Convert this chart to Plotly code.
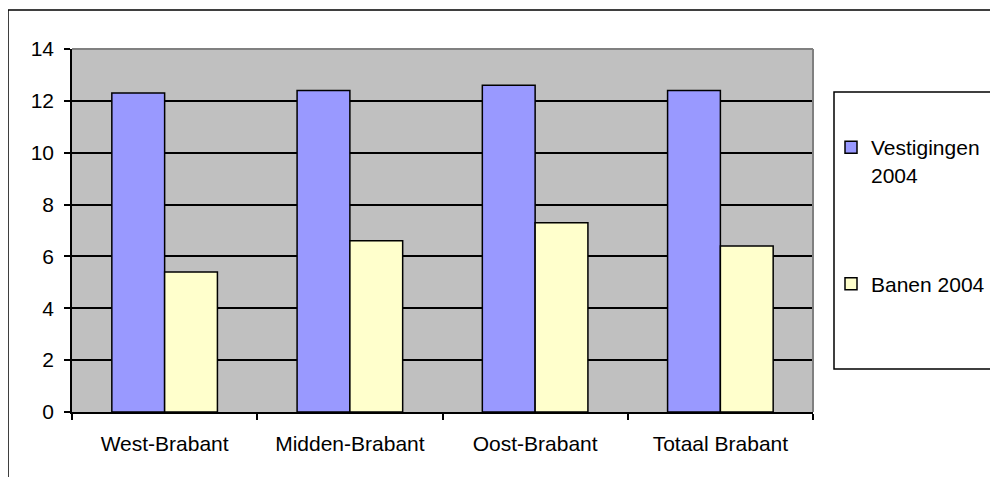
import plotly.graph_objects as go

categories = ["West-Brabant", "Midden-Brabant", "Oost-Brabant", "Totaal Brabant"]
vestigingen_2004 = [12.3, 12.4, 12.6, 12.4]
banen_2004 = [5.4, 6.6, 7.3, 6.4]
series_names = ["Vestigingen<br>2004", "Banen 2004"]
y_ticks = [0, 2, 4, 6, 8, 10, 12, 14]

FONT = "Liberation Sans, Arial, sans-serif"
FS = 21
OFF = 8  # page body margin

fig = go.Figure()
fig.add_trace(go.Bar(x=categories, y=vestigingen_2004, name=series_names[0],
                     marker=dict(color="#9999FF", line=dict(color="black", width=1.5)),
                     legendgroup="a"))
fig.add_trace(go.Bar(x=categories, y=banen_2004, name=series_names[1],
                     marker=dict(color="#FFFFCC", line=dict(color="black", width=1.5)),
                     legendgroup="b"))

# pixel helpers (page coords; plot area: x 72..813, y 49..412)
def px(xp):
    return (xp - 72) / 741.0

def py(yp):
    return (412 - yp) / 363.0

shapes = [
    dict(type="line", xref="paper", yref="paper", x0=0, x1=1, y0=1, y1=1,
         line=dict(color="#808080", width=2), layer="above"),
    dict(type="line", xref="paper", yref="paper", x0=1, x1=1, y0=0, y1=1,
         line=dict(color="#808080", width=2), layer="above"),
    dict(type="rect", xref="paper", yref="paper", x0=px(834), x1=px(996), y0=py(369), y1=py(92),
         line=dict(color="black", width=1.5), fillcolor="rgba(0,0,0,0)", layer="above"),
    dict(type="rect", xref="paper", yref="paper", x0=px(8), x1=px(1010), y0=py(490), y1=py(10),
         line=dict(color="black", width=1.5), fillcolor="rgba(0,0,0,0)", layer="above"),
]

fig.update_layout(
    width=998 - OFF, height=477 - OFF,
    margin=dict(l=72 - OFF, r=185, t=49 - OFF, b=65, autoexpand=False),
    paper_bgcolor="white",
    plot_bgcolor="#C0C0C0",
    barmode="group",
    bargap=0.43,
    bargroupgap=0,
    font=dict(family=FONT, size=FS, color="black"),
    showlegend=True,
    legend=dict(
        x=px(831), xanchor="left",
        y=py(127), yanchor="top",
        traceorder="grouped",
        tracegroupgap=79,
        valign="top",
        bgcolor="rgba(0,0,0,0)",
        borderwidth=0,
        font=dict(family=FONT, size=FS, color="black"),
    ),
    shapes=shapes,
)

fig.update_xaxes(
    type="category",
    range=[-0.5, 3.5],
    tickson="boundaries",
    ticks="outside", ticklen=6, tickwidth=1.5, tickcolor="black",
    showline=True, linecolor="black", linewidth=1.5,
    showgrid=False,
    ticklabelstandoff=12,
    tickfont=dict(family=FONT, size=FS, color="black"),
)
fig.update_yaxes(
    range=[0, 14],
    tickvals=y_ticks,
    ticks="outside", ticklen=6, tickwidth=1.5, tickcolor="black",
    showline=True, linecolor="black", linewidth=1.5,
    showgrid=True, gridcolor="black", gridwidth=1.5,
    zeroline=False,
    ticklabelstandoff=6,
    tickfont=dict(family=FONT, size=FS, color="black"),
)

fig.write_html("out.html")
